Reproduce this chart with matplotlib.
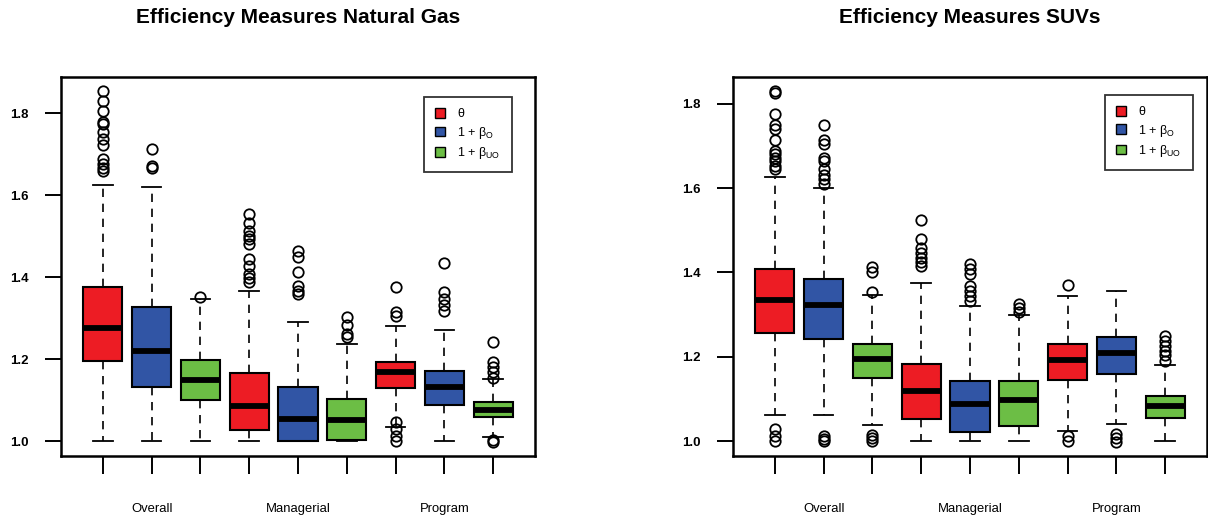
import matplotlib
matplotlib.use("Agg")
import matplotlib.pyplot as plt
from matplotlib.patches import Patch

plt.rcParams['font.family'] = ['Liberation Sans', 'DejaVu Sans']
plt.rcParams['mathtext.fontset'] = 'custom'
plt.rcParams['mathtext.rm'] = 'Liberation Sans'

# Data to plot (box statistics)
groups = ['Overall', 'Managerial', 'Program']
measures = ['θ', '1 + β$_{\\mathrm{O}}$', '1 + β$_{\\mathrm{UO}}$']
colors = ['#ED1C24', '#3155A5', '#6CBE45']

gas_q1 = [1.195, 1.131, 1.100, 1.028, 1.000, 1.002, 1.129, 1.089, 1.059]
gas_med = [1.277, 1.220, 1.150, 1.085, 1.054, 1.052, 1.168, 1.131, 1.076]
gas_q3 = [1.376, 1.328, 1.199, 1.167, 1.133, 1.102, 1.192, 1.172, 1.096]
gas_lo = [1.000, 1.000, 1.000, 1.000, 1.000, 1.000, 1.035, 1.000, 1.011]
gas_hi = [1.625, 1.619, 1.346, 1.367, 1.291, 1.238, 1.280, 1.271, 1.151]
gas_fliers = [
    [1.854, 1.830, 1.805, 1.779, 1.774, 1.753, 1.737, 1.722, 1.688, 1.675, 1.666, 1.659],
    [1.712, 1.671, 1.666],
    [1.352],
    [1.554, 1.532, 1.513, 1.501, 1.493, 1.480, 1.444, 1.428, 1.407, 1.397, 1.387],
    [1.464, 1.448, 1.413, 1.379, 1.367, 1.360],
    [1.304, 1.284, 1.261, 1.254],
    [1.375, 1.314, 1.306, 1.046, 1.029, 1.013, 1.000],
    [1.434, 1.364, 1.346, 1.332, 1.318],
    [1.242, 1.192, 1.180, 1.168, 1.155, 1.003, 0.998],
]

suv_q1 = [1.256, 1.242, 1.149, 1.052, 1.021, 1.037, 1.146, 1.159, 1.055]
suv_med = [1.335, 1.323, 1.195, 1.118, 1.087, 1.098, 1.192, 1.208, 1.083]
suv_q3 = [1.409, 1.385, 1.230, 1.184, 1.143, 1.142, 1.230, 1.246, 1.108]
suv_lo = [1.061, 1.061, 1.039, 1.000, 1.000, 1.000, 1.023, 1.040, 1.000]
suv_hi = [1.626, 1.599, 1.346, 1.375, 1.320, 1.300, 1.345, 1.357, 1.181]
suv_fliers = [
    [1.830, 1.826, 1.776, 1.749, 1.739, 1.713, 1.688, 1.680, 1.672, 1.664, 1.652, 1.644,
     1.029, 1.013, 1.001],
    [1.749, 1.715, 1.704, 1.672, 1.664, 1.645, 1.630, 1.621, 1.609, 1.013, 1.005, 1.000],
    [1.413, 1.400, 1.354, 1.015, 1.007, 1.000],
    [1.524, 1.480, 1.459, 1.447, 1.435, 1.425, 1.416],
    [1.420, 1.408, 1.396, 1.368, 1.356, 1.345, 1.333],
    [1.325, 1.315, 1.305],
    [1.371, 1.013, 1.001],
    [1.017, 1.007, 0.998],
    [1.250, 1.238, 1.226, 1.214, 1.203, 1.191],
]

yticks = [1.0, 1.2, 1.4, 1.6, 1.8]

fig = plt.figure(figsize=(12.08, 5.22), dpi=100)
ax_gas = fig.add_axes([61 / 1208, 66 / 522, 474 / 1208, 379 / 522])
ax_suv = fig.add_axes([733 / 1208, 66 / 522, 474 / 1208, 379 / 522])


def draw_panel(ax, title, q1, med, q3, lo, hi, fliers, legend_anchor):
    n = len(med)
    pos = list(range(1, n + 1))
    stats = []
    for i in range(n):
        stats.append(dict(med=med[i], q1=q1[i], q3=q3[i],
                          whislo=lo[i], whishi=hi[i], fliers=fliers[i]))
    bp = ax.bxp(stats, positions=pos, widths=0.8, capwidths=0.4,
                patch_artist=True,
                boxprops=dict(linewidth=1.5, edgecolor='black'),
                medianprops=dict(color='black', linewidth=4.2, solid_capstyle='butt'),
                whiskerprops=dict(linestyle=(0, (5, 4)), linewidth=1.2, color='black'),
                capprops=dict(linewidth=1.3, color='black'),
                flierprops=dict(marker='o', markerfacecolor='none',
                                markeredgecolor='black', markersize=7.5,
                                markeredgewidth=1.3))
    for i, patch in enumerate(bp['boxes']):
        patch.set_facecolor(colors[i % 3])

    # R-like limits: 4% padding
    allv = lo + hi + [v for f in fliers for v in f]
    vmin, vmax = min(allv), max(allv)
    pad = 0.04 * (vmax - vmin)
    ax.set_ylim(vmin - pad, vmax + pad)
    ax.set_xlim(0.5 - 0.04 * n, n + 0.5 + 0.04 * n)

    ax.set_yticks(yticks)
    ax.set_yticklabels(['%.1f' % v for v in yticks], fontsize=9.5, fontweight='bold')
    ax.set_xticks(pos)
    ax.set_xticklabels([])
    ax.tick_params(axis='y', direction='out', length=11.5, width=1.4, pad=12)
    ax.tick_params(axis='x', direction='out', length=13, width=1.4)
    for s in ax.spines.values():
        s.set_linewidth(1.8)

    for j, g in enumerate(groups):
        ax.text(3 * j + 2, -0.14, g, transform=ax.get_xaxis_transform(),
                ha='center', va='center', fontsize=9.4)

    ax.text(0.5, 1.0 + 59 / 379, title, transform=ax.transAxes,
            ha='center', va='center', fontsize=15, fontweight='bold')

    handles = [Patch(facecolor=c, edgecolor='black', linewidth=1.0) for c in colors]
    leg = ax.legend(handles, measures, loc='upper right', bbox_to_anchor=legend_anchor,
                    fontsize=9, frameon=True, fancybox=False, edgecolor='black',
                    handlelength=0.8, handleheight=0.8, handletextpad=1.0,
                    labelspacing=0.35, borderpad=0.9, borderaxespad=0)
    leg.get_frame().set_linewidth(1.3)


draw_panel(ax_gas, 'Efficiency Measures Natural Gas', gas_q1, gas_med, gas_q3,
           gas_lo, gas_hi, gas_fliers, (0.951, 0.947))
draw_panel(ax_suv, 'Efficiency Measures SUVs', suv_q1, suv_med, suv_q3,
           suv_lo, suv_hi, suv_fliers, (0.970, 0.953))

fig.savefig('out.png', dpi=100)
